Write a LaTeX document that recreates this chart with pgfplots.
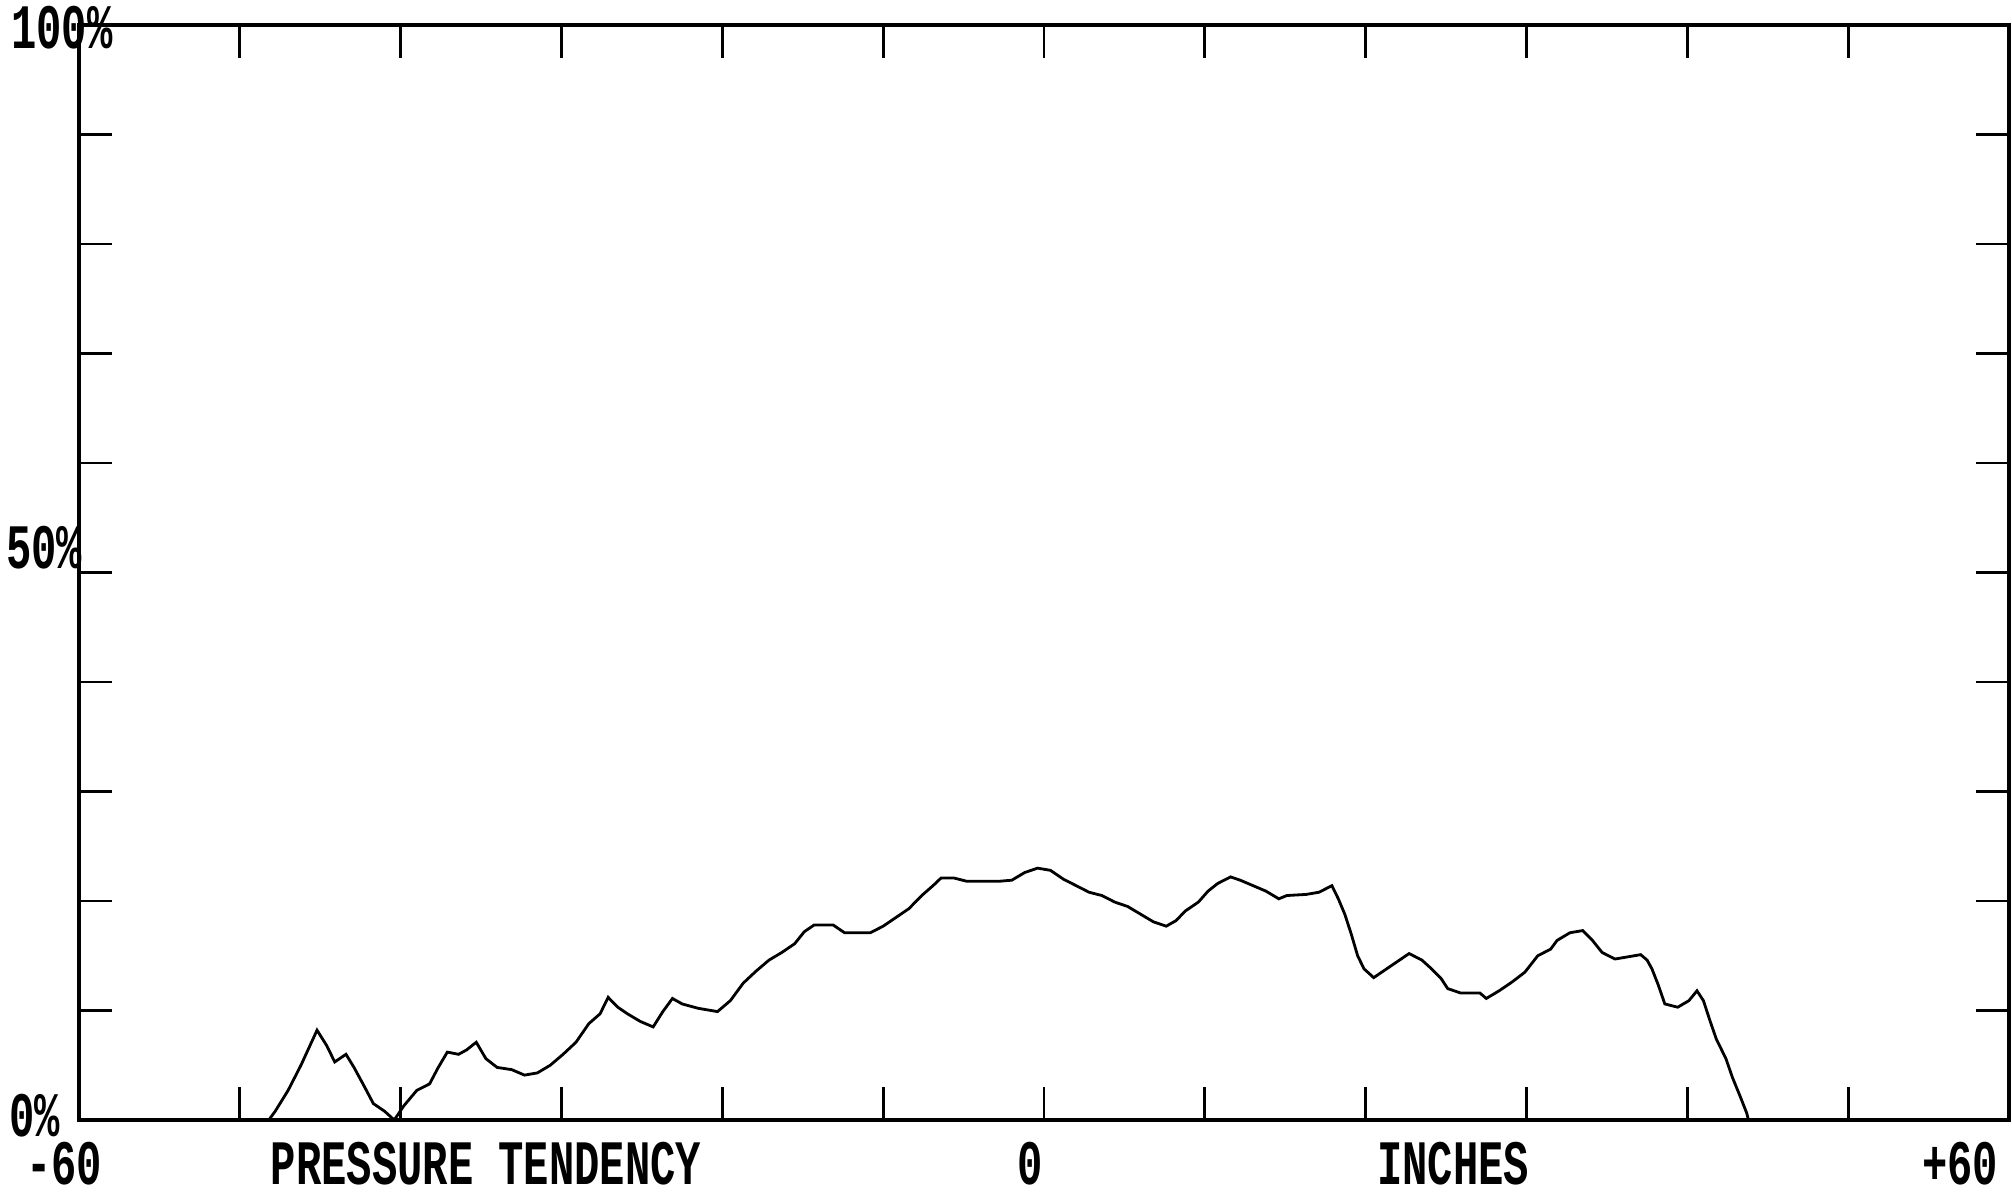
\documentclass[border=0pt]{standalone}
\usepackage{pgfplots}
\pgfplotsset{compat=1.18}
\usepackage{fontspec}
\setmainfont{Liberation Mono}
\newcommand{\dm}[1]{\scalebox{1}[1.5]{\fontsize{12}{12}\selectfont\bfseries #1}}
\begin{document}
\begin{tikzpicture}
\path[use as bounding box] (0,0) rectangle (20.12,11.98);
\begin{axis}[
  at={(0.79cm,0.78cm)}, anchor=south west,
  scale only axis,
  width=19.30cm, height=10.95cm,
  xmin=-60, xmax=60, ymin=0, ymax=100,
  xtick={-50,-40,...,50},
  ytick={10,20,...,90},
  xticklabels={}, yticklabels={},
  tick align=inside,
  xtick pos=both, ytick pos=both,
  major tick length=0.33cm,
  tick style={black, line width=0.8pt},
  axis line style={line width=0.9pt},
  clip=false,
]
\addplot[black, line width=0.8pt] coordinates {
(-48.2,0) (-47.8,0.8) (-47.0,2.7) (-46.2,5.0) (-45.2,8.2) (-44.6,6.8) (-44.1,5.3)
(-43.4,6.0) (-42.9,4.8) (-42.2,2.9) (-41.7,1.5) (-41.0,0.8) (-40.4,0) (-39.8,1.3)
(-39.0,2.7) (-38.2,3.3) (-37.7,4.7) (-37.1,6.2) (-36.4,6.0) (-35.9,6.4) (-35.3,7.1)
(-34.7,5.6) (-34.0,4.8) (-33.1,4.6) (-32.3,4.1) (-31.5,4.3) (-30.7,5.0) (-29.9,6.0)
(-29.1,7.1) (-28.3,8.8) (-27.6,9.7) (-27.1,11.2) (-26.5,10.3) (-25.9,9.7) (-25.1,9.0)
(-24.3,8.5) (-23.7,9.9) (-23.1,11.1) (-22.5,10.6) (-21.5,10.2) (-20.3,9.9) (-19.5,10.9)
(-18.7,12.5) (-17.9,13.6) (-17.1,14.6) (-16.3,15.3) (-15.5,16.1) (-14.9,17.2) (-14.3,17.8)
(-13.1,17.8) (-12.4,17.1) (-10.8,17.1) (-10.0,17.7) (-9.2,18.5) (-8.4,19.3) (-7.6,20.5)
(-6.9,21.4) (-6.4,22.1) (-5.6,22.1) (-4.8,21.8) (-2.8,21.8) (-2.0,21.9) (-1.2,22.6)
(-0.4,23.0) (0.4,22.8) (1.2,22.0) (2.0,21.4) (2.8,20.8) (3.6,20.5) (4.4,19.9)
(5.2,19.5) (6.0,18.8) (6.8,18.1) (7.6,17.7) (8.2,18.2) (8.8,19.1) (9.6,19.9)
(10.2,20.9) (10.8,21.6) (11.6,22.2) (12.2,21.9) (13.0,21.4) (13.8,20.9) (14.6,20.2)
(15.1,20.5) (16.3,20.6) (17.1,20.8) (17.9,21.4) (18.3,20.2) (18.7,18.8) (19.1,17.0)
(19.5,15.0) (19.9,13.8) (20.5,13.0) (21.1,13.6) (21.9,14.4) (22.7,15.2) (23.5,14.6)
(24.1,13.8) (24.7,12.9) (25.1,12.0) (25.9,11.6) (27.1,11.6) (27.5,11.1) (28.3,11.8)
(29.1,12.6) (29.9,13.5) (30.7,15.0) (31.5,15.6) (31.9,16.4) (32.7,17.1) (33.5,17.3)
(34.1,16.4) (34.7,15.3) (35.5,14.7) (36.3,14.9) (37.1,15.1) (37.5,14.6) (37.8,13.8)
(38.2,12.3) (38.6,10.6) (39.4,10.3) (40.1,10.9) (40.6,11.8) (41.0,10.9) (41.4,9.1)
(41.8,7.4) (42.4,5.6) (42.8,3.9) (43.3,2.1) (43.7,0.6) (43.8,0)
};
\end{axis}
% labels
\node at (0.62,11.70) {\dm{100\%}};
\node at (0.44,6.50) {\dm{50\%}};
\node at (0.35,0.82) {\dm{0\%}};
\node at (0.64,0.34) {\dm{-60}};
\node at (4.86,0.34) {\dm{PRESSURE TENDENCY}};
\node at (10.30,0.34) {\dm{0}};
\node at (14.53,0.34) {\dm{INCHES}};
\node at (19.60,0.34) {\dm{+60}};
\end{tikzpicture}
\end{document}
